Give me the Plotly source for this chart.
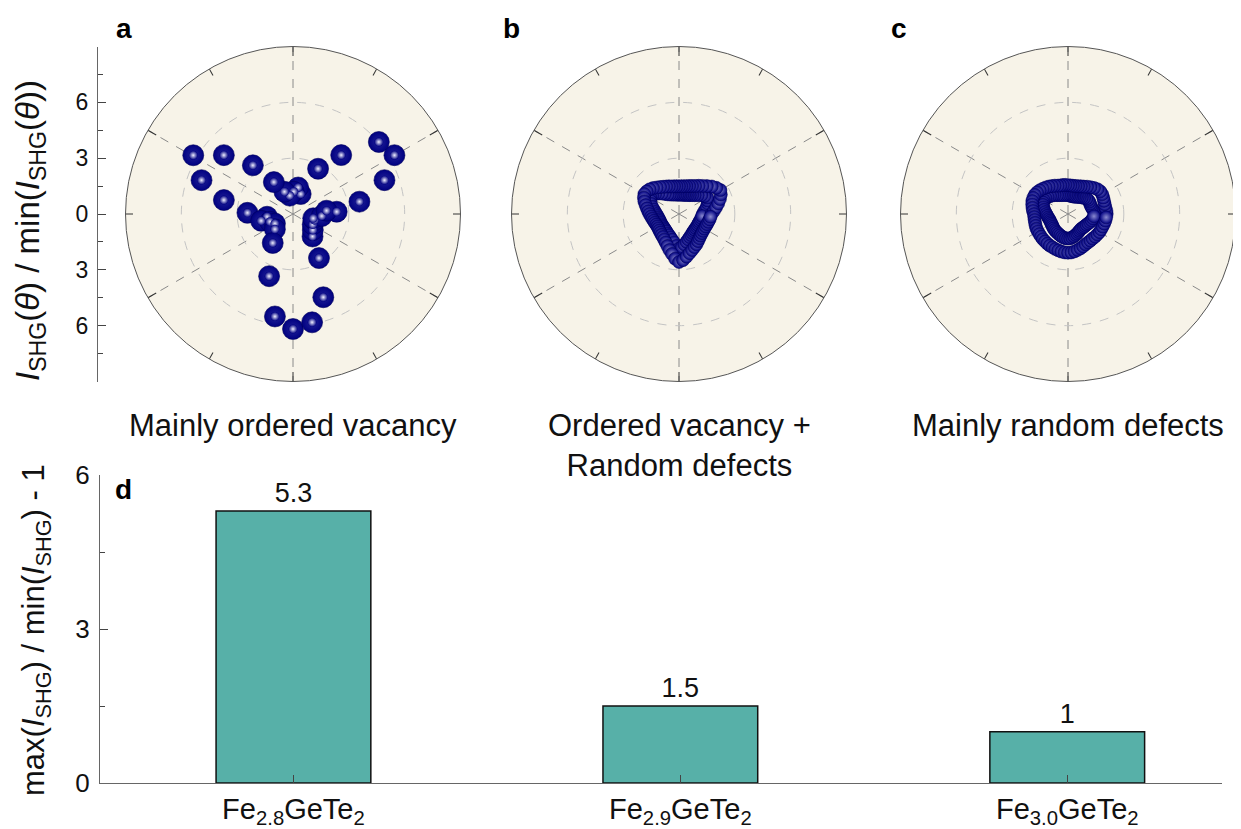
import plotly.graph_objects as go

# ---------------- data ----------------
# panel a : mainly ordered vacancy (theta in deg, normalised SHG intensity)
theta_a = [3, 10.5, 20.3, 30.1, 40, 50.7, 61, 69, 79, 88, 100, 111, 121, 129.5, 139.6,
           149.5, 159.7, 168.6, 178.5, 186, 192, 198.5, 208, 220, 235, 249, 260, 270,
           280, 290, 300.5, 311, 321, 332, 344, 348, 356, 5.6]
r_a = [2.35, 3.63, 5.24, 6.3, 6.02, 4.09, 2.78, 1.15, 1.45, 1.2, 1.0, 1.28, 2.0, 3.39, 4.88,
       6.22, 5.24, 3.79, 2.45, 1.4, 1.75, 1.3, 1.1, 1.27, 1.9, 3.58, 5.59, 6.18,
       5.91, 4.76, 2.75, 1.6, 1.37, 1.2, 1.2, 1.11, 1.55, 1.81]

# panels b, c : dense measurements, sampled every 5 deg (two passes each)
theta_bc = [0, 5, 10, 15, 20, 25, 30, 35, 40, 45, 50, 55, 60, 65, 70, 75, 80, 85,
            90, 95, 100, 105, 110, 115, 120, 125, 130, 135, 140, 145, 150, 155, 160, 165,
            170, 175, 180, 185, 190, 195, 200, 205, 210, 215, 220, 225, 230, 235, 240, 245,
            250, 255, 260, 265, 270, 275, 280, 285, 290, 295, 300, 305, 310, 315, 320, 325,
            330, 335, 340, 345, 350, 355]
r_b_pass1 = [1.75, 1.88, 2.02, 2.18, 2.34, 2.48, 2.57, 2.45, 2.30, 2.12, 1.97, 1.85, 1.74, 1.66,
             1.60, 1.55, 1.52, 1.49, 1.49, 1.49, 1.51, 1.53, 1.58, 1.63, 1.69, 1.77, 1.86, 1.97,
             2.06, 2.12, 2.15, 2.08, 1.98, 1.86, 1.75, 1.66, 1.59, 1.51, 1.46, 1.41, 1.38, 1.35,
             1.34, 1.35, 1.38, 1.41, 1.46, 1.51, 1.59, 1.69, 1.83, 2.00, 2.18, 2.41, 2.58, 2.49,
             2.33, 2.18, 2.06, 1.96, 1.88, 1.78, 1.70, 1.64, 1.60, 1.58, 1.57, 1.58, 1.60, 1.63,
             1.67, 1.70]
r_b_pass2 = [1.28, 1.35, 1.45, 1.55, 1.65, 1.71, 1.76, 1.68, 1.57, 1.43, 1.32, 1.24, 1.17, 1.13,
             1.09, 1.06, 1.05, 1.04, 1.04, 1.04, 1.06, 1.08, 1.11, 1.16, 1.22, 1.32, 1.43, 1.56,
             1.67, 1.75, 1.78, 1.71, 1.61, 1.49, 1.38, 1.29, 1.22, 1.16, 1.13, 1.10, 1.09, 1.08,
             1.09, 1.08, 1.09, 1.10, 1.13, 1.16, 1.22, 1.26, 1.34, 1.43, 1.55, 1.72, 1.85, 1.78,
             1.66, 1.55, 1.45, 1.37, 1.31, 1.25, 1.21, 1.19, 1.17, 1.17, 1.16, 1.17, 1.17, 1.20,
             1.22, 1.25]
r_c_pass1 = [2.08, 2.07, 2.04, 2.04, 2.06, 2.09, 2.12, 2.12, 2.07, 1.98, 1.88, 1.79, 1.70, 1.64,
             1.59, 1.56, 1.54, 1.54, 1.55, 1.57, 1.58, 1.59, 1.62, 1.68, 1.73, 1.80, 1.86, 1.92,
             1.98, 2.03, 2.06, 2.06, 2.04, 1.99, 1.94, 1.89, 1.83, 1.82, 1.82, 1.83, 1.85, 1.87,
             1.87, 1.88, 1.89, 1.91, 1.92, 1.94, 1.96, 1.97, 2.00, 2.02, 2.05, 2.07, 2.08, 2.07,
             2.04, 2.00, 1.96, 1.92, 1.88, 1.87, 1.87, 1.87, 1.90, 1.92, 1.95, 1.96, 1.98, 2.01,
             2.04, 2.06]
r_c_pass2 = [1.44, 1.41, 1.36, 1.32, 1.30, 1.31, 1.32, 1.32, 1.29, 1.22, 1.16, 1.11, 1.06, 1.02,
             0.99, 0.98, 0.98, 1.00, 1.01, 1.03, 1.04, 1.05, 1.08, 1.12, 1.17, 1.24, 1.30, 1.36,
             1.42, 1.47, 1.50, 1.48, 1.44, 1.37, 1.30, 1.23, 1.17, 1.12, 1.08, 1.05, 1.03, 1.03,
             1.03, 1.04, 1.07, 1.09, 1.12, 1.14, 1.16, 1.19, 1.22, 1.26, 1.29, 1.31, 1.32, 1.31,
             1.28, 1.24, 1.20, 1.16, 1.12, 1.09, 1.07, 1.07, 1.10, 1.12, 1.15, 1.20, 1.26, 1.31,
             1.36, 1.40]

# panel d : anisotropy
samples = ["Fe<sub>2.8</sub>GeTe<sub>2</sub>", "Fe<sub>2.9</sub>GeTe<sub>2</sub>",
           "Fe<sub>3.0</sub>GeTe<sub>2</sub>"]
anisotropy = [5.3, 1.5, 1]

polar_ticks_a = [-6, -3, 0, 3, 6]
polar_ticktext_a = ["6", "3", "0", "3", "6"]
spoke_angles = [30, 90, 150, 210, 270, 330]
tick_angles = [0, 60, 120, 180, 240, 300]
panel_titles = ["Mainly ordered vacancy", "Ordered vacancy +<br>Random defects",
                "Mainly random defects"]

# ---------------- style ----------------
PAGE_OFF = 8                     # default body margin of the html page
FW, FH = 1241 - PAGE_OFF, 829 - PAGE_OFF
FONT = "Arial, Liberation Sans, sans-serif"
NAVY = "#000080"
BG = "#F7F3E8"


def px(x):
    return min(1.0, max(0.0, (x - PAGE_OFF) / FW))


def py(y):
    return min(1.0, max(0.0, 1 - (y - PAGE_OFF) / FH))


fig = go.Figure()

centers = [293, 679, 1068]
cy, R = 214, 167.5
main_polars = ["polar", "polar3", "polar5"]
over_polars = ["polar2", "polar4", "polar6"]

marker_big = dict(color=NAVY, size=21, line=dict(color="#00005a", width=0.6),
                  gradient=dict(type="radial", color="#22229a"))
marker_shine = dict(color=NAVY, size=9, line=dict(width=0),
                    gradient=dict(type="radial", color="#f0f0ff"))
marker_small = dict(color=NAVY, size=13, line=dict(color="#00005a", width=0.5),
                    gradient=dict(type="radial", color="#8a8ad0"))

fig.add_trace(go.Scatterpolar(r=r_a, theta=theta_a, mode="markers", marker=marker_big,
                              subplot="polar", showlegend=False))
fig.add_trace(go.Scatterpolar(r=r_a, theta=theta_a, mode="markers", marker=marker_shine,
                              subplot="polar", showlegend=False, hoverinfo="skip"))
fig.add_trace(go.Scatterpolar(r=r_b_pass2, theta=theta_bc, mode="markers", marker=marker_small,
                              subplot="polar3", showlegend=False))
fig.add_trace(go.Scatterpolar(r=r_b_pass1, theta=theta_bc, mode="markers", marker=marker_small,
                              subplot="polar3", showlegend=False))
fig.add_trace(go.Scatterpolar(r=r_c_pass2, theta=theta_bc, mode="markers", marker=marker_small,
                              subplot="polar5", showlegend=False))
fig.add_trace(go.Scatterpolar(r=r_c_pass1, theta=theta_bc, mode="markers", marker=marker_small,
                              subplot="polar5", showlegend=False))
for sp in over_polars:
    fig.add_trace(go.Scatterpolar(r=[], theta=[], mode="markers", subplot=sp,
                                  showlegend=False, hoverinfo="skip"))

for cx, mp, op in zip(centers, main_polars, over_polars):
    dom = dict(x=[px(cx - R), px(cx + R)], y=[py(cy + R), py(cy - R)])
    fig.layout[mp] = dict(
        domain=dom, bgcolor=BG,
        radialaxis=dict(range=[0, 9], tickvals=[3, 6], showticklabels=False, ticks="",
                        showline=False, gridcolor="#c4c4c4", griddash="dash", gridwidth=1),
        angularaxis=dict(tickmode="array", tickvals=spoke_angles, showticklabels=False,
                         ticks="inside", ticklen=9, tickcolor="#333", tickwidth=1,
                         showgrid=True, gridcolor="#8a8a8a", griddash="dash", gridwidth=1,
                         showline=True, linecolor="#555", linewidth=1,
                         rotation=0, direction="counterclockwise"),
    )
    fig.layout[op] = dict(
        domain=dom, bgcolor="rgba(0,0,0,0)",
        radialaxis=dict(range=[0, 9], visible=False),
        angularaxis=dict(tickmode="array", tickvals=tick_angles, showticklabels=False,
                         ticks="inside", ticklen=7, tickcolor="#333", tickwidth=1,
                         showgrid=False, showline=False, rotation=0,
                         direction="counterclockwise"),
    )

# left radial scale of panel a
fig.add_trace(go.Scatter(x=[], y=[], xaxis="x2", yaxis="y2", showlegend=False,
                         hoverinfo="skip"))

# bar chart d
fig.add_trace(go.Bar(x=samples, y=anisotropy, width=0.4, marker=dict(
    color="#57B0A8", line=dict(color="#111", width=1.5)),
    texttemplate="%{y}", textposition="outside", cliponaxis=False,
    textfont=dict(size=27, color="#111", family=FONT), showlegend=False))

axis_col = "#666"
fig.update_layout(
    width=FW, height=FH, margin=dict(l=0, r=0, t=0, b=0, autoexpand=False),
    paper_bgcolor="white", plot_bgcolor="white",
    font=dict(family=FONT, color="#111"),
    xaxis=dict(domain=[px(100), px(1222)], range=[-0.5, 2.4], showline=True,
               linecolor=axis_col, linewidth=1.2, ticks="inside", ticklen=8,
               tickcolor="#444", tickfont=dict(size=29), showgrid=False, zeroline=False,
               automargin=False),
    yaxis=dict(domain=[py(783), py(475)], range=[0, 6], tick0=0, dtick=3, showline=True,
               linecolor=axis_col, linewidth=1.2, ticks="inside", ticklen=8,
               tickcolor="#444", tickfont=dict(size=26), showgrid=False, zeroline=False,
               automargin=False, ticklabelstandoff=4,
               minor=dict(tick0=0, dtick=1.5, ticks="inside", ticklen=5, tickcolor="#444")),
    xaxis2=dict(domain=[px(98), px(110)], visible=False, range=[0, 1], automargin=False),
    yaxis2=dict(anchor="x2", side="left", domain=[py(cy + R), py(cy - R)], range=[-9, 9],
                tickmode="array", tickvals=polar_ticks_a, ticktext=polar_ticktext_a,
                showline=True, linecolor=axis_col, linewidth=1.2, ticks="inside",
                ticklen=8, tickcolor="#444", tickfont=dict(size=23), showgrid=False,
                zeroline=False, automargin=False, ticklabelstandoff=4,
                minor=dict(tick0=0, dtick=1.5, ticks="inside", ticklen=5, tickcolor="#444")),
)

ann = []
for lab, x, y in [("a", 124, 28), ("b", 511, 28), ("c", 899, 28), ("d", 123, 489)]:
    ann.append(dict(text=f"<b>{lab}</b>", x=px(x), y=py(y), xref="paper", yref="paper",
                    showarrow=False, xanchor="center", yanchor="middle",
                    font=dict(size=28, color="#000")))
ann.append(dict(text=panel_titles[0], x=px(293), y=py(425), xref="paper",
                yref="paper", showarrow=False, xanchor="center", yanchor="middle",
                font=dict(size=31)))
ann.append(dict(text=panel_titles[1], x=px(679), y=py(445), xref="paper",
                yref="paper", showarrow=False, xanchor="center", yanchor="middle",
                font=dict(size=31)))
ann.append(dict(text=panel_titles[2], x=px(1068), y=py(425), xref="paper",
                yref="paper", showarrow=False, xanchor="center", yanchor="middle",
                font=dict(size=31)))
ann.append(dict(text="<i>I</i><sub>SHG</sub>(<i>θ</i>) / min(<i>I</i><sub>SHG</sub>(<i>θ</i>))",
                x=px(30), y=py(231), xref="paper", yref="paper", showarrow=False,
                textangle=-90, xanchor="center", yanchor="middle", font=dict(size=33)))
ann.append(dict(text="max(<i>I</i><sub>SHG</sub>) / min(<i>I</i><sub>SHG</sub>) - 1",
                x=px(36), y=py(630), xref="paper", yref="paper", showarrow=False,
                textangle=-90, xanchor="center", yanchor="middle", font=dict(size=31)))
fig.update_layout(annotations=ann)

fig.write_html("out.html")
